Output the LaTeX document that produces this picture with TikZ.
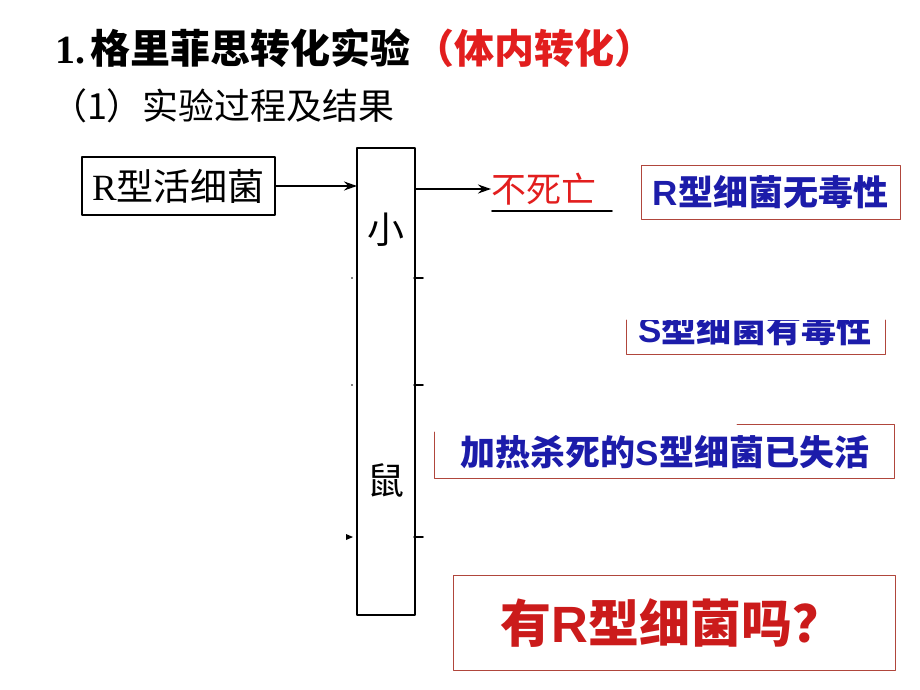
\documentclass[tikz,border=0pt]{standalone}
\usepackage{fontspec}
\setmainfont{Noto Sans CJK SC}
\newfontfamily\lserif{Liberation Serif}
\newfontfamily\lsans{Liberation Sans}
\usetikzlibrary{arrows.meta}
\definecolor{hongse}{RGB}{226,30,30}
\definecolor{lanse}{RGB}{28,28,170}
\definecolor{biankuang}{RGB}{176,70,60}
\newcommand{\zihao}[1]{\fontsize{#1}{1.2\dimexpr#1\relax}\selectfont}
\begin{document}
\begin{tikzpicture}[x=1pt, y=-1pt, line cap=round, line join=round, inner sep=0pt, outer sep=0pt,
	heikuang/.style={draw=black, line width=1.8pt},
	hongkuang/.style={draw=biankuang, line width=0.9pt},
	lanzi/.style={text=lanse, font=\zihao{35pt}\bfseries},
	jiantou/.style={-{Stealth[length=13pt, width=9pt]}, line width=2pt}]
	
	\useasboundingbox (0,0) rectangle (920,690);
	
	% 标题
	\node[anchor=west, font=\zihao{40pt}\bfseries] (biaoti) at (55,48)
	{{\lserif 1.}\hspace{5pt}格里菲思转化实验\hspace{4pt}\textcolor{hongse}{（体内转化）}};
	\node[anchor=west, font=\zihao{36pt}] (xiaobiaoti) at (51,106) {（1）实验过程及结果};
	
	% 左边的框和小鼠
	\node[heikuang, minimum width=193pt, minimum height=58pt, font=\zihao{37pt}] (rhuo) at (178.5,186)
	{{\lserif R}型活细菌};
	\node[heikuang, minimum width=58pt, minimum height=467pt] (xiaoshu) at (386,381.5) {};
	\node[font=\zihao{37pt}] (xiao) at (386,230) {小};
	\node[font=\zihao{37pt}] (shu) at (386,480) {鼠};
	
	% 结果
	\node[anchor=west, text=hongse, font=\zihao{35pt}] (busi) at (491,189) {不死亡};
	\draw[line width=1.8pt] (492,211) -- (612,211);
	\draw[jiantou] (rhuo.east) -- (rhuo.east -| xiaoshu.west);
	\draw[jiantou] (xiaoshu.east |- busi.west) -- (busi.west);
	
	% 右边的蓝字
	\node[hongkuang, lanzi, minimum width=259pt, minimum height=54pt] (wudu) at (770.5,192)
	{{\lsans\bfseries R}型细菌无毒性};
	
	\begin{scope}
		\clip (600,320) rectangle (920,360);
		\node[lanzi] (youdu) at (755,329) {{\lsans\bfseries S}型细菌有毒性};
	\end{scope}
	\draw[hongkuang] (626,320) -- (626,354) -- (885,354) -- (885,320);
	
	\node[lanzi] (shihuo) at (665,452) {加热杀死的{\lsans\bfseries S}型细菌已失活};
	\draw[hongkuang] (434,432) -- (434,478) -- (894,478) -- (894,424) -- (737,424);
	
	% 问题
	\node[hongkuang, minimum width=442pt, minimum height=95pt] (wenti) at (674,622.5) {};
	\node[text=hongse!90!black, font=\zihao{51pt}\bfseries] (wenzi) at (672,623)
	{有{\lsans\bfseries R}型细菌吗？};
	
	% 小鼠框边上的短线
	\foreach \y in {278,385,537}
	\draw[line width=1.5pt] (414,\y) -- (423,\y);
	\fill (352,278) circle (0.8pt);
	\fill (352,385) circle (0.8pt);
	\fill (353,537) -- (346,534) -- (346,540) -- cycle;
	
\end{tikzpicture}
\end{document}
